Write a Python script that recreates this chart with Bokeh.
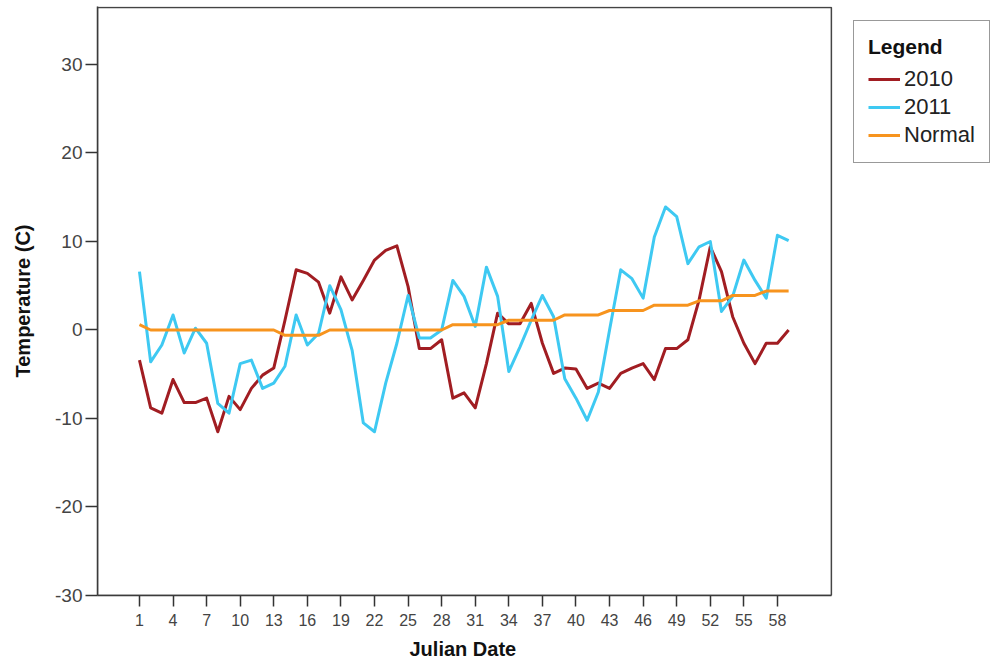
from bokeh.plotting import figure
from bokeh.models import (Range1d, FixedTicker, Legend, LegendItem,
                          PrintfTickFormatter, BoxAnnotation, Title)
from bokeh.embed import file_html
from bokeh.resources import INLINE

# ---- data -------------------------------------------------------------
days = [1, 2, 3, 4, 5, 6, 7, 8, 9, 10, 11, 12, 13, 14, 15, 16, 17, 18, 19, 20,
        21, 22, 23, 24, 25, 26, 27, 28, 29, 30, 31, 32, 33, 34, 35, 36, 37, 38, 39, 40,
        41, 42, 43, 44, 45, 46, 47, 48, 49, 50, 51, 52, 53, 54, 55, 56, 57, 58, 59]

t2010 = [-3.4, -8.8, -9.4, -5.6, -8.2, -8.2, -7.7, -11.5, -7.5, -9.0,
         -6.6, -5.1, -4.3, 1.1, 6.8, 6.4, 5.4, 1.9, 6.0, 3.4,
         5.6, 7.9, 9.0, 9.5, 4.9, -2.1, -2.1, -1.1, -7.7, -7.1,
         -8.8, -3.8, 1.9, 0.7, 0.7, 3.0, -1.5, -4.9, -4.3, -4.4,
         -6.6, -6.0, -6.6, -4.9, -4.3, -3.8, -5.6, -2.1, -2.1, -1.1,
         3.4, 9.4, 6.6, 1.5, -1.5, -3.8, -1.5, -1.5, 0.0]

t2011 = [6.6, -3.6, -1.7, 1.7, -2.6, 0.2, -1.5, -8.3, -9.4, -3.8,
         -3.4, -6.6, -6.0, -4.1, 1.7, -1.7, -0.4, 5.0, 2.3, -2.3,
         -10.5, -11.5, -6.0, -1.5, 3.9, -0.9, -0.9, 0.0, 5.6, 3.8,
         0.4, 7.1, 3.8, -4.7, -1.9, 1.1, 3.9, 1.5, -5.5, -7.7,
         -10.2, -7.0, 0.0, 6.8, 5.8, 3.6, 10.5, 13.9, 12.8, 7.5,
         9.4, 10.0, 2.1, 3.8, 7.9, 5.6, 3.6, 10.7, 10.1]

normal = [0.6, 0.0, 0.0, 0.0, 0.0, 0.0, 0.0, 0.0, 0.0, 0.0,
          0.0, 0.0, 0.0, -0.6, -0.6, -0.6, -0.6, 0.0, 0.0, 0.0,
          0.0, 0.0, 0.0, 0.0, 0.0, 0.0, 0.0, 0.0, 0.6, 0.6,
          0.6, 0.6, 0.6, 1.1, 1.1, 1.1, 1.1, 1.1, 1.7, 1.7,
          1.7, 1.7, 2.2, 2.2, 2.2, 2.2, 2.8, 2.8, 2.8, 2.8,
          3.3, 3.3, 3.3, 3.9, 3.9, 3.9, 4.4, 4.4, 4.4]

series_names = ["2010", "2011", "Normal"]
series_colors = ["#A11D22", "#3EC9F2", "#F7941E"]

x_ticks = [1, 4, 7, 10, 13, 16, 19, 22, 25, 28, 31, 34, 37, 40, 43, 46, 49, 52, 55, 58]
y_ticks = [-30, -20, -10, 0, 10, 20, 30]

FONT = "Liberation Sans"

# axis extents: the plotted region ends at X_EDGE, the area to its
# right (up to X_END) holds the legend
X0, X_EDGE, X_END = -2.75, 62.82, 77.93
Y0, Y1 = -30, 36.55

# ---- main chart -------------------------------------------------------
p = figure(width=1002, height=669,
           x_range=Range1d(X0, X_END), y_range=Range1d(Y0, Y1),
           output_backend="svg", toolbar_location=None,
           min_border_left=97, min_border_right=2,
           min_border_top=6, min_border_bottom=74)

p.background_fill_color = "white"
p.border_fill_color = "white"
p.outline_line_color = None
p.grid.visible = False

# visible plot border (top and right edges of the plotted region)
p.add_layout(BoxAnnotation(left=X0, right=X_EDGE, bottom=Y0, top=Y1 - 0.1,
                           fill_alpha=0, line_color="#444444", line_alpha=1.0,
                           line_width=1.5))

renderers = []
for vals, col in zip([t2010, t2011, normal], series_colors):
    renderers.append(p.line(days, vals, line_color=col, line_width=3, line_join="round"))

p.xaxis.ticker = FixedTicker(ticks=x_ticks)
p.xaxis.bounds = (X0, X_EDGE)
p.yaxis.ticker = FixedTicker(ticks=y_ticks)
p.yaxis.formatter = PrintfTickFormatter(format="%d")
p.yaxis.axis_label = "Temperature (C)"

for ax in (p.xaxis, p.yaxis):
    ax.axis_line_color = "#333333"
    ax.axis_line_width = 1.5
    ax.major_tick_line_color = "#333333"
    ax.major_tick_line_width = 1.5
    ax.major_tick_in = 0
    ax.minor_tick_line_color = None
    ax.major_label_text_font = FONT
    ax.major_label_text_color = "#444444"
    ax.axis_label_text_font = FONT
    ax.axis_label_text_font_style = "bold"
    ax.axis_label_text_font_size = "20px"
    ax.axis_label_text_color = "#111111"

p.xaxis.major_tick_out = 11
p.xaxis.major_label_text_font_size = "16px"
p.xaxis.major_label_standoff = 7

p.yaxis.major_tick_out = 12
p.yaxis.major_label_text_font_size = "19px"
p.yaxis.major_label_standoff = 3
p.yaxis.axis_label_standoff = 18

# x-axis title, centred under the plotted region
p.add_layout(Title(text="Julian Date", align="left", offset=312, standoff=14,
                   text_font=FONT, text_font_size="20px", text_font_style="bold",
                   text_color="#111111"), "below")

# ---- legend -----------------------------------------------------------
legend = Legend(
    items=[LegendItem(label=n, renderers=[r]) for n, r in zip(series_names, renderers)],
    location=(756, 432),
    title="Legend",
    title_text_font=FONT, title_text_font_size="21px",
    title_text_font_style="bold", title_text_color="#111111",
    title_standoff=7,
    label_text_font=FONT, label_text_font_size="22px", label_text_color="#222222",
    glyph_width=32, glyph_height=20, label_standoff=4, spacing=2, padding=14,
    margin=0,
    border_line_color="#333333", border_line_width=1.5,
    background_fill_color="white", background_fill_alpha=1.0,
)
p.add_layout(legend)

open("out.html", "w").write(file_html(p, INLINE))
